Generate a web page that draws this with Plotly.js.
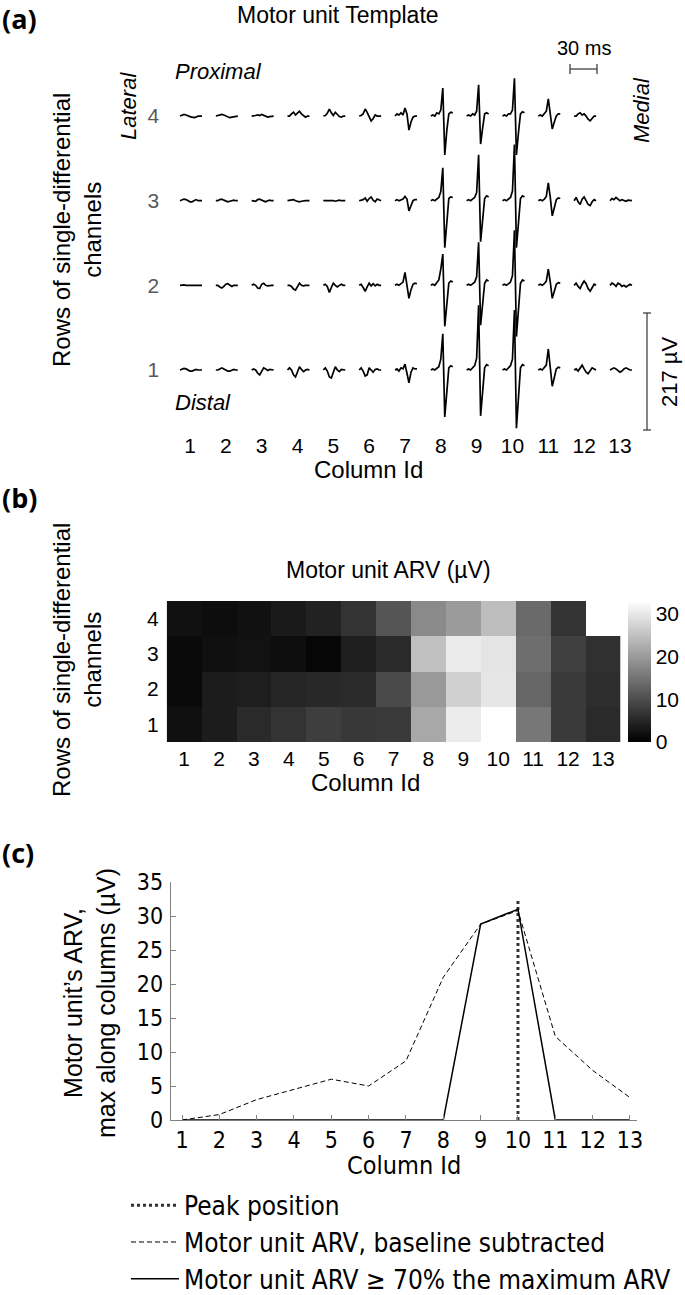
<!DOCTYPE html>
<html><head><meta charset="utf-8">
<script src="https://cdn.plot.ly/plotly-3.0.1.min.js"></script>
<style>html,body{margin:0;padding:0;background:#fff}</style>
</head><body><div id="chart" style="width:685px;height:1295px"></div>
<script>
// ---------------- DATA ----------------
const COLUMN_IDS = [1,2,3,4,5,6,7,8,9,10,11,12,13];
const ROW_IDS = [1,2,3,4];
const ROW_LABELS = ['1','2','3','4'];
const COLUMN_LABELS = ['1','2','3','4','5','6','7','8','9','10','11','12','13'];

// Template sample times (ms, relative to column centre)
const SAMPLE_TIMES_MS = [-11.1,-8.9,-6.7,-4.4,-2.2,0,2.2,4.4,6.7,8.9,11.1,13.3];

// Motor unit templates (µV), one waveform per column
const TEMPLATE_ROW1 = [
  [0,2,3,2,0,-2,-2,0,1,0,0,0],
  [0,0,2,4,2,0,-2,-2,0,1,0,0],
  [0,2,0,-6,-9,-2,4,2,-1,1,0,0],
  [0,4,0,-9,-13,-2,6,1,-3,0,1,0],
  [0,4,-2,-13,-15,-2,6,0,-3,1,0,0],
  [0,4,-2,-11,-9,4,0,-4,1,2,0,0],
  [0,2,-2,4,2,11,-6,-24,-4,4,2,2],
  [0,2,0,4,6,20,67,-87,-30,4,8,6],
  [0,2,0,4,8,22,120,-85,-38,4,10,8],
  [0,2,0,4,8,20,111,-108,-50,4,10,8],
  [0,2,0,4,9,39,6,-30,-14,2,5,4],
  [0,2,-2,4,9,2,-4,-7,0,4,2,0],
  [0,2,4,2,-2,-4,-2,2,4,2,0,0]
];
const TEMPLATE_ROW2 = [
  [0,1,1,0,0,-1,-1,0,0,0,0,0],
  [0,0,-3,-5,-2,2,3,0,-2,0,0,0],
  [0,2,0,-5,-6,2,4,0,-1,0,0,0],
  [0,0,-2,-7,-9,-2,4,0,-1,0,0,0],
  [0,2,-2,-13,-4,4,0,-3,0,2,0,0],
  [0,2,-4,-11,-3,4,-1,3,-1,2,0,0],
  [0,2,0,4,6,24,-2,-24,-8,2,4,3],
  [0,2,0,6,10,30,58,-76,-30,4,8,6],
  [0,2,0,4,6,16,80,-74,-30,4,10,8],
  [0,2,0,4,6,18,102,-95,-40,4,10,8],
  [0,2,0,3,8,30,6,-24,-11,2,5,4],
  [0,4,-2,-6,2,8,3,-6,-11,-4,2,0],
  [0,4,2,-2,4,2,-2,0,-3,0,2,0]
];
const TEMPLATE_ROW3 = [
  [0,2,3,2,0,-2,-2,0,2,0,0,0],
  [0,0,2,3,1,-1,-2,-1,0,1,0,0],
  [0,0,-1,2,3,1,-1,-2,0,1,0,0],
  [0,1,2,2,0,-1,-2,-1,0,0,0,0],
  [0,0,1,0,1,0,-1,0,1,0,0,0],
  [0,1,2,5,-1,4,7,1,-2,3,1,0],
  [0,2,0,2,3,8,3,-19,-8,0,2,2],
  [0,2,0,4,6,17,61,-87,-35,4,7,6],
  [0,2,0,4,6,15,85,-76,-30,4,9,7],
  [0,2,0,4,6,18,104,-87,-40,4,9,7],
  [0,2,0,3,8,33,6,-28,-13,2,5,4],
  [0,6,-2,-7,3,7,0,-7,-9,-2,2,0],
  [0,4,2,6,3,0,2,0,-1,1,0,0]
];
const TEMPLATE_ROW4 = [
  [0,2,3,2,0,-1,-2,-3,-2,0,0,0],
  [0,1,2,3,2,0,-2,-3,-2,-1,0,0],
  [0,0,1,2,1,3,1,-1,-2,-1,0,0],
  [0,0,4,7,2,6,9,4,0,-2,0,0],
  [0,1,5,13,6,1,7,3,-1,-2,0,0],
  [0,1,4,13,7,0,-9,-5,2,0,0,0],
  [0,4,2,6,2,15,4,-26,-11,-2,0,0],
  [0,2,0,6,4,11,52,-72,-26,4,7,6],
  [0,2,0,4,2,9,58,-52,-22,4,6,4],
  [0,2,0,4,4,11,70,-72,-30,4,8,6],
  [0,2,0,4,9,32,6,-24,-11,0,4,4],
  [0,0,4,6,2,4,0,-6,-9,-4,0,0],
  null
];

// Motor unit ARV (µV) per channel
const ARV_ROW1 = [2.1,3.6,5.4,6.6,8.0,7.2,7.5,21.7,30.5,33.0,15.4,7.5,5.4];
const ARV_ROW2 = [1.3,3.6,3.9,4.9,5.2,5.4,9.6,19.8,26.9,29.8,13.2,7.5,6.0];
const ARV_ROW3 = [1.3,2.1,2.3,1.8,0.8,3.9,5.4,24.8,30.4,29.5,14.2,8.3,6.2];
const ARV_ROW4 = [2.2,1.7,2.2,3.4,4.4,6.6,11.0,17.9,20.0,24.5,13.7,6.6,null];

// Panel (c)
const ARV_BASELINE_SUB = [0.0,0.8,3.0,4.5,6.0,5.0,8.7,21.0,28.8,30.8,12.3,7.3,3.3];
const ARV_ABOVE_70 = [0,0,0,0,0,0,0,0,28.8,31.0,0,0,0];
const PEAK_COLUMN = 10;
const PEAK_LINE_Y = [0, 32.3];

const SCALE_BAR_UV = 217;
const SCALE_BAR_MS = 30;

// ---------------- LAYOUT HELPERS ----------------
const W = 685, H = 1295;
const FONT = '"Liberation Sans", Arial, Helvetica, sans-serif';
const NARROW = '"Liberation Sans Narrow", "Arial Narrow", "DejaVu Sans Condensed", sans-serif';
const BOLD = '"Open Sans", "Liberation Sans", Arial, sans-serif';
const fx = px => px / W;
const fy = py => 1 - py / H;

// Panel (a)
const A_PX_PER_COL = 35.83;
const A_X0 = 190 - 0.5 * A_PX_PER_COL;
const A_RIGHT = 662;
const A_TOP = 58, A_BOT = 433;
const ROW_STEP_UV = 157;
const UV_PER_PX = SCALE_BAR_UV / 117;
const ROW1_PY = 370;
const aVal = py => ROW_STEP_UV + (ROW1_PY - py) * UV_PER_PX;
const aCol = px => 0.5 + (px - A_X0) / A_PX_PER_COL;
const COL_PER_MS = (27 / SCALE_BAR_MS) / A_PX_PER_COL;

const TEMPLATES = [TEMPLATE_ROW1, TEMPLATE_ROW2, TEMPLATE_ROW3, TEMPLATE_ROW4];
const wx = [], wy = [];
TEMPLATES.forEach((row, ri) => {
  row.forEach((wave, ci) => {
    if (!wave) return;
    SAMPLE_TIMES_MS.forEach((t, k) => {
      wx.push(COLUMN_IDS[ci] + t * COL_PER_MS);
      wy.push(ROW_IDS[ri] * ROW_STEP_UV + wave[k]);
    });
    wx.push(null); wy.push(null);
  });
});

// Panel (b)
const B_X0 = 166.7, B_PX_PER_COL = 34.9;
const B_TOP = 601, B_BOT = 742;

// Panel (c)
const C_PX_PER_COL = 37.33;
const C_RANGE = [0.7, 13.2];
const C_LEFT = 182 + (C_RANGE[0] - 1) * C_PX_PER_COL;
const C_RIGHT = 182 + (C_RANGE[1] - 1) * C_PX_PER_COL;
const C_TOP = 882, C_BOT = 1120;

const traces = [
  {type:'scatter', mode:'lines', x:wx, y:wy, xaxis:'x', yaxis:'y',
   line:{color:'#000', width:1.7}, showlegend:false, hoverinfo:'skip', connectgaps:false},
  {type:'heatmap', x:COLUMN_IDS, y:ROW_IDS, z:[ARV_ROW1, ARV_ROW2, ARV_ROW3, ARV_ROW4],
   xaxis:'x2', yaxis:'y2', zmin:0, zmax:33, colorscale:[[0,'#000'],[1,'#fff']],
   showscale:true, hoverinfo:'skip',
   colorbar:{x:fx(628), xanchor:'left', y:fy((B_TOP+B_BOT)/2), yanchor:'middle',
     len:B_BOT-B_TOP, lenmode:'pixels', thickness:23, outlinewidth:0, xpad:0, ypad:0,
     tickvals:[0,10,20,30], ticks:'', tickfont:{family:FONT, size:21, color:'#000'}}},
  {type:'scatter', mode:'lines', name:'Peak position', x:[PEAK_COLUMN, PEAK_COLUMN], y:PEAK_LINE_Y,
   xaxis:'x3', yaxis:'y3', line:{color:'#333', width:3, dash:'dot'}, legendrank:1, hoverinfo:'skip'},
  {type:'scatter', mode:'lines', name:'Motor unit ARV, baseline subtracted', x:COLUMN_IDS, y:ARV_BASELINE_SUB,
   xaxis:'x3', yaxis:'y3', line:{color:'#000', width:1, dash:'5px,3px'}, legendrank:2, hoverinfo:'skip'},
  {type:'scatter', mode:'lines', name:'Motor unit ARV ≥ 70% the maximum ARV', x:COLUMN_IDS, y:ARV_ABOVE_70,
   xaxis:'x3', yaxis:'y3', line:{color:'#000', width:1.5}, legendrank:3, hoverinfo:'skip'}
];

const hidden = {showgrid:false, zeroline:false, showline:false};
const P = {xref:'paper', yref:'paper', showarrow:false};
const ann = o => Object.assign({}, P, {xanchor:'center', yanchor:'middle'}, o);
const layout = {
  width:W, height:H, margin:{l:0,r:0,t:0,b:0,autoexpand:false},
  paper_bgcolor:'#fff', plot_bgcolor:'rgba(0,0,0,0)',
  font:{family:FONT, size:21, color:'#000'},
  showlegend:true,
  xaxis:Object.assign({}, hidden, {domain:[fx(A_X0), fx(A_RIGHT)], range:[0.5, aCol(A_RIGHT)],
    tickvals:COLUMN_IDS, ticktext:COLUMN_LABELS, ticks:'', tickfont:{size:21}, ticklabelstandoff:-2}),
  yaxis:Object.assign({}, hidden, {domain:[fy(A_BOT), fy(A_TOP)], range:[aVal(A_BOT), aVal(A_TOP)],
    tickvals:ROW_IDS.map(r => r*ROW_STEP_UV), ticktext:ROW_LABELS, ticks:'',
    tickfont:{size:21, color:'#595959'}, ticklabelstandoff:12}),
  xaxis2:Object.assign({}, hidden, {domain:[fx(B_X0), fx(B_X0 + 13*B_PX_PER_COL)], range:[0.5,13.5],
    tickvals:COLUMN_IDS, ticktext:COLUMN_LABELS, ticks:'', tickfont:{size:21}, anchor:'y2', ticklabelstandoff:2}),
  yaxis2:Object.assign({}, hidden, {domain:[fy(B_BOT), fy(B_TOP)], range:[0.5,4.5],
    tickvals:ROW_IDS, ticktext:ROW_LABELS, ticks:'', tickfont:{size:21}, anchor:'x2', ticklabelstandoff:7}),
  xaxis3:{domain:[fx(C_LEFT), fx(C_RIGHT)], range:C_RANGE, anchor:'y3',
    tickvals:COLUMN_IDS, ticktext:COLUMN_LABELS, ticks:'inside', ticklen:5, tickcolor:'#808080',
    showline:true, linecolor:'#808080', linewidth:1, showgrid:false, zeroline:false,
    tickfont:{family:NARROW, size:23}, ticklabelstandoff:-1},
  yaxis3:{domain:[fy(C_BOT), fy(C_TOP)], range:[0,35], anchor:'x3',
    tickvals:[0,5,10,15,20,25,30,35], ticks:'inside', ticklen:5, tickcolor:'#808080',
    showline:true, linecolor:'#808080', linewidth:1, showgrid:false, zeroline:false,
    tickfont:{family:NARROW, size:23}, ticklabelstandoff:2},
  legend:{x:fx(126), y:-0.006, xanchor:'left', yanchor:'bottom', xref:'paper', yref:'paper',
    font:{family:NARROW, size:26, color:'#000'}, itemwidth:48,
    bgcolor:'rgba(0,0,0,0)', traceorder:'normal'},
  shapes:[
    // 217 µV scale bar
    {type:'line', xref:'x', yref:'y', x0:aCol(647), x1:aCol(647), y0:aVal(430), y1:aVal(430)+SCALE_BAR_UV, line:{color:'#333', width:1.2}},
    {type:'line', xref:'x', yref:'y', x0:aCol(643), x1:aCol(651), y0:aVal(430), y1:aVal(430), line:{color:'#333', width:1.2}},
    {type:'line', xref:'x', yref:'y', x0:aCol(643), x1:aCol(651), y0:aVal(430)+SCALE_BAR_UV, y1:aVal(430)+SCALE_BAR_UV, line:{color:'#333', width:1.2}},
    // 30 ms scale bar
    {type:'line', xref:'x', yref:'y', x0:aCol(570), x1:aCol(570)+SCALE_BAR_MS*COL_PER_MS, y0:aVal(69), y1:aVal(69), line:{color:'#333', width:1.2}},
    {type:'line', xref:'x', yref:'y', x0:aCol(570), x1:aCol(570), y0:aVal(64), y1:aVal(74), line:{color:'#333', width:1.2}},
    {type:'line', xref:'x', yref:'y', x0:aCol(570)+SCALE_BAR_MS*COL_PER_MS, x1:aCol(570)+SCALE_BAR_MS*COL_PER_MS, y0:aVal(64), y1:aVal(74), line:{color:'#333', width:1.2}}
  ],
  annotations:[
    ann({text:'<b>(a)</b>', x:fx(0), y:fy(18), xanchor:'left', font:{family:BOLD, size:27}}),
    ann({text:'<b>(b)</b>', x:fx(0), y:fy(497), xanchor:'left', font:{family:BOLD, size:27}}),
    ann({text:'<b>(c)</b>', x:fx(0), y:fy(852), xanchor:'left', font:{family:BOLD, size:27}}),
    ann({text:'Motor unit Template', x:fx(338), y:fy(15), font:{size:23}}),
    ann({text:'30 ms', x:fx(584), y:fy(48), font:{size:20}}),
    ann({text:'<i>Proximal</i>', x:fx(218), y:fy(72), font:{size:22}}),
    ann({text:'<i>Distal</i>', x:fx(203), y:fy(402), font:{size:22}}),
    ann({text:'<i>Lateral</i>', x:fx(128), y:fy(106), textangle:-90, font:{size:22}}),
    ann({text:'<i>Medial</i>', x:fx(641), y:fy(110), textangle:-90, font:{size:22}}),
    ann({text:'217 µV', x:fx(669), y:fy(372), textangle:-90, font:{size:22}}),
    ann({text:'Rows of single-differential<br>channels', x:fx(77), y:fy(230), textangle:-90, font:{size:24}}),
    ann({text:'Column Id', x:fx(368), y:fy(470), font:{size:24}}),
    ann({text:'Motor unit ARV (µV)', x:fx(388), y:fy(570), font:{size:23}}),
    ann({text:'Rows of single-differential<br>channels', x:fx(77), y:fy(660), textangle:-90, font:{size:24}}),
    ann({text:'Column Id', x:fx(366), y:fy(782), font:{size:24}}),
    ann({text:'Motor unit’s ARV,<br>max along columns (µV)', x:fx(89), y:fy(1003), textangle:-90, font:{size:25}}),
    ann({text:'Column Id', x:fx(404), y:fy(1165), font:{family:NARROW, size:25}})
  ]
};

Plotly.newPlot('chart', traces, layout, {displayModeBar:false, staticPlot:true});
</script>
</body></html>
